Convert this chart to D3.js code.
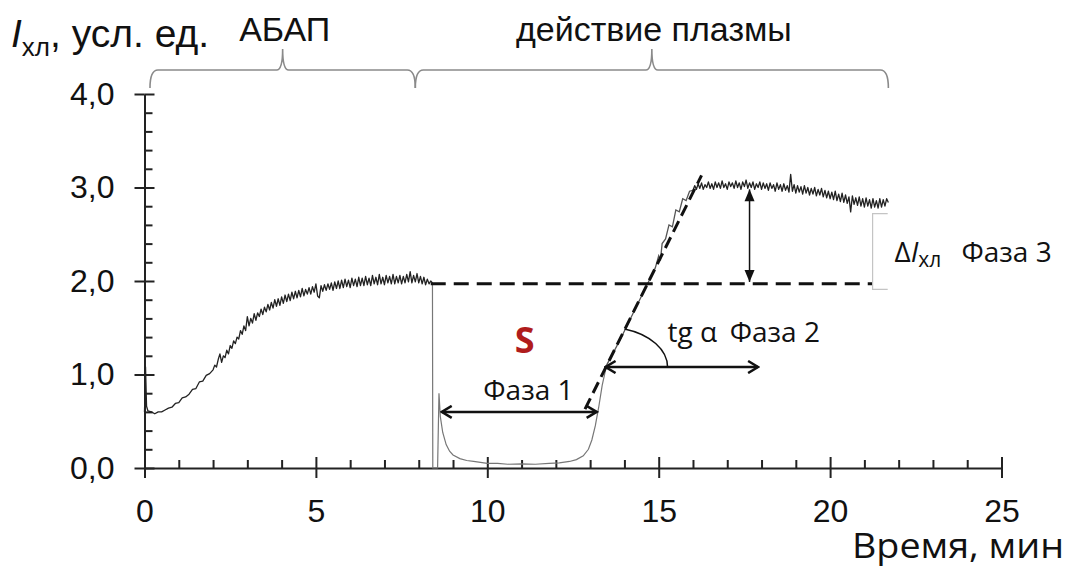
<!DOCTYPE html>
<html>
<head>
<meta charset="utf-8">
<script src="https://cdn.jsdelivr.net/npm/d3@7/dist/d3.min.js"></script>
<style>
body { margin: 0; background: #fff; }
svg { display: block; }
.tick text { font-family: "Liberation Sans", Arial, sans-serif; font-size: 32px; fill: #111; }
.tick line { stroke: #222; stroke-width: 2; }
.domain { stroke: #222; stroke-width: 2; }
.note { font-family: "Open Sans", sans-serif; font-size: 28px; fill: #111; }
.head { font-family: "Liberation Sans", Arial, sans-serif; font-size: 34px; fill: #111; }
</style>
</head>
<body>
<script>
// ---- data ----
var xTicks = [0, 5, 10, 15, 20, 25]
var xMinorTicks = [1, 2, 3, 4, 6, 7, 8, 9, 11, 12, 13, 14, 16, 17, 18, 19, 21, 22, 23, 24]
var yTicks = [0, 1, 2, 3, 4]
var yTickLabels = ["0,0", "1,0", "2,0", "3,0", "4,0"]
var yMinorTicks = [0.2, 0.4, 0.6, 0.8, 1.2, 1.4, 1.6, 1.8, 2.2, 2.4, 2.6, 2.8, 3.2, 3.4, 3.6, 3.8]

// АБАП phase: time, intensity
var abapCurve = [
	[0, 0.6], [0.03, 1.08], [0.06, 0.66], [0.1, 0.61], [0.2, 0.6],
	[0.3, 0.58], [0.4, 0.6], [0.5, 0.6], [0.6, 0.62], [0.7, 0.64], [0.8, 0.65], [0.9, 0.69],
	[1.0, 0.7], [1.1, 0.75], [1.2, 0.76], [1.3, 0.79], [1.4, 0.84], [1.5, 0.85], [1.6, 0.92],
	[1.7, 0.93], [1.8, 0.99], [1.9, 1.01],
	[2.0, 1.05], [2.05, 1.1], [2.1, 1.08], [2.15, 1.16], [2.2, 1.22], [2.25, 1.13], [2.3, 1.2],
	[2.35, 1.18], [2.4, 1.26], [2.45, 1.22], [2.5, 1.31], [2.55, 1.28], [2.6, 1.36], [2.65, 1.33],
	[2.7, 1.4], [2.75, 1.38], [2.8, 1.47], [2.85, 1.43], [2.9, 1.52], [2.95, 1.47], [3.0, 1.62],
	[3.05, 1.52], [3.1, 1.6], [3.15, 1.55], [3.2, 1.65], [3.25, 1.58], [3.3, 1.66], [3.35, 1.62],
	[3.4, 1.7], [3.45, 1.64], [3.5, 1.72], [3.55, 1.67], [3.6, 1.75], [3.65, 1.69], [3.7, 1.77],
	[3.75, 1.71], [3.8, 1.8], [3.85, 1.73], [3.9, 1.81], [3.95, 1.74], [4.0, 1.83], [4.05, 1.76],
	[4.1, 1.85], [4.15, 1.78], [4.2, 1.86], [4.25, 1.79], [4.3, 1.88], [4.35, 1.81], [4.4, 1.89],
	[4.45, 1.82], [4.5, 1.9], [4.55, 1.83], [4.6, 1.92], [4.65, 1.84], [4.7, 1.91], [4.75, 1.86],
	[4.8, 1.93], [4.85, 1.86], [4.9, 1.94], [4.95, 1.88], [5.0, 1.97], [5.05, 1.84], [5.1, 1.82],
	[5.15, 1.95], [5.2, 1.89], [5.25, 1.96], [5.3, 1.9], [5.35, 1.97], [5.4, 1.91], [5.45, 1.98],
	[5.5, 1.9], [5.55, 1.99], [5.6, 1.92], [5.65, 2.0], [5.7, 1.92], [5.75, 2.01], [5.8, 1.93],
	[5.85, 2.02], [5.9, 1.94], [5.95, 2.01], [6.0, 1.93], [6.05, 2.03], [6.1, 1.95], [6.15, 2.02],
	[6.2, 1.94], [6.25, 2.04], [6.3, 1.95], [6.35, 2.03], [6.4, 1.95], [6.45, 2.05], [6.5, 1.96],
	[6.55, 2.03], [6.6, 1.95], [6.65, 2.06], [6.7, 1.97], [6.75, 2.04], [6.8, 1.96], [6.85, 2.07],
	[6.9, 1.97], [6.95, 2.04], [7.0, 1.96], [7.05, 2.06], [7.1, 1.98], [7.15, 2.05], [7.2, 1.97],
	[7.25, 2.07], [7.3, 1.97], [7.35, 2.05], [7.4, 1.98], [7.45, 2.06], [7.5, 1.97], [7.55, 2.05],
	[7.6, 1.98], [7.65, 2.07], [7.7, 1.99], [7.75, 2.1], [7.8, 1.98], [7.85, 2.06], [7.9, 1.99],
	[7.95, 2.08], [8.0, 1.98], [8.05, 2.05], [8.1, 1.97], [8.15, 2.04], [8.2, 1.96], [8.25, 2.02],
	[8.3, 1.97], [8.35, 2.0], [8.4, 1.98]
]

// plasma added: drop, flash, lag phase
var lagCurve = [
	[8.4, 1.98], [8.41, 0.0], [8.55, 0.0], [8.59, 0.8], [8.63, 0.55], [8.7, 0.38], [8.8, 0.25],
	[8.9, 0.18], [9.0, 0.14], [9.2, 0.1], [9.4, 0.08], [9.6, 0.07], [9.8, 0.06], [10.0, 0.05],
	[10.3, 0.05], [10.6, 0.04], [11.0, 0.045], [11.4, 0.04], [11.8, 0.05], [12.1, 0.055],
	[12.4, 0.07], [12.6, 0.09], [12.8, 0.13], [12.95, 0.2], [13.05, 0.3], [13.15, 0.45],
	[13.25, 0.65], [13.35, 0.88], [13.48, 1.1]
]

// rise phase
var riseCurve = [
	[13.48, 1.1], [13.7, 1.25], [13.9, 1.39], [14.1, 1.54], [14.3, 1.69], [14.5, 1.84],
	[14.7, 1.99], [14.9, 2.14], [15.0, 2.27], [15.05, 2.22], [15.1, 2.4], [15.2, 2.45],
	[15.3, 2.6], [15.4, 2.58], [15.5, 2.76], [15.6, 2.74], [15.7, 2.88], [15.8, 2.86],
	[15.9, 2.96], [16.0, 2.97]
]

// plateau
var plateauCurve = [
	[16.0, 2.97], [16.05, 3.02], [16.1, 2.98], [16.15, 3.04], [16.2, 2.99], [16.25, 3.05],
	[16.3, 2.98], [16.35, 3.03], [16.4, 3.0], [16.45, 3.06], [16.5, 2.99], [16.55, 3.04],
	[16.6, 2.98], [16.65, 3.06], [16.7, 3.0], [16.75, 3.05], [16.8, 2.99], [16.85, 3.07],
	[16.9, 3.0], [16.95, 3.04], [17.0, 2.98], [17.05, 3.06], [17.1, 3.01], [17.15, 3.05],
	[17.2, 2.99], [17.25, 3.07], [17.3, 3.0], [17.35, 3.05], [17.4, 2.98], [17.45, 3.06],
	[17.5, 3.01], [17.55, 3.08], [17.6, 2.99], [17.65, 3.05], [17.7, 3.0], [17.75, 3.06],
	[17.8, 2.98], [17.85, 3.04], [17.9, 3.0], [17.95, 3.06], [18.0, 2.98], [18.05, 3.05],
	[18.1, 2.99], [18.15, 3.04], [18.2, 2.97], [18.25, 3.05], [18.3, 2.99], [18.35, 3.03],
	[18.4, 2.96], [18.45, 3.05], [18.5, 2.98], [18.55, 3.03], [18.6, 2.96], [18.65, 3.04],
	[18.7, 2.97], [18.75, 3.02], [18.8, 2.95], [18.85, 3.14], [18.9, 2.96], [18.95, 3.03],
	[19.0, 2.94], [19.05, 3.02], [19.1, 2.95], [19.15, 3.01], [19.2, 2.93], [19.25, 3.02],
	[19.3, 2.94], [19.35, 3.0], [19.4, 2.92], [19.45, 2.99], [19.5, 2.93], [19.55, 3.0],
	[19.6, 2.91], [19.65, 2.98], [19.7, 2.92], [19.75, 2.99], [19.8, 2.9], [19.85, 2.97],
	[19.9, 2.89], [19.95, 2.96], [20.0, 2.88], [20.05, 2.95], [20.1, 2.87], [20.15, 2.96],
	[20.2, 2.86], [20.25, 2.93], [20.3, 2.85], [20.35, 2.94], [20.4, 2.84], [20.45, 2.92],
	[20.5, 2.83], [20.55, 2.9], [20.6, 2.74], [20.65, 2.91], [20.7, 2.82], [20.75, 2.89],
	[20.8, 2.81], [20.85, 2.9], [20.9, 2.8], [20.95, 2.88], [21.0, 2.79], [21.05, 2.89],
	[21.1, 2.8], [21.15, 2.87], [21.2, 2.78], [21.25, 2.88], [21.3, 2.79], [21.35, 2.86],
	[21.4, 2.78], [21.45, 2.88], [21.5, 2.79], [21.55, 2.87], [21.6, 2.8], [21.65, 2.88],
	[21.7, 2.84]
]

// guide lines
var baseLevel = [[8.35, 1.97], [21.24, 1.97]]
var slopeLine = [[12.85, 0.63], [16.25, 3.13]]
var phase1Arrow = [[8.67, 0.6], [13.19, 0.6]]
var phase2Arrow = [[13.45, 1.08], [17.9, 1.08]]
var deltaArrow = [[17.65, 2.98], [17.65, 1.99]]
var deltaBracket = [[21.68, 2.72], [21.24, 2.72], [21.24, 1.91], [21.68, 1.91]]

// braces over time periods
var braceSpans = [[0.16, 7.9], [7.9, 21.7]]
var braceLabels = ["АБАП", "действие плазмы"]

// ---- chart ----
var width = 1070, height = 567

var svg = d3.select("body").append("svg")
	.attr("width", width)
	.attr("height", height)

var x = d3.scaleLinear().domain([0, 25]).range([144.5, 1001.5])
var y = d3.scaleLinear().domain([0, 4]).range([468, 94])

var defs = svg.append("defs")
defs.append("marker")
	.attr("id", "chev")
	.attr("viewBox", "-12 -7 14 14")
	.attr("refX", 0).attr("refY", 0)
	.attr("markerUnits", "userSpaceOnUse")
	.attr("markerWidth", 14).attr("markerHeight", 14)
	.attr("orient", "auto-start-reverse")
  .append("path")
	.attr("d", "M-10,-6 L0,0 L-10,6")
	.attr("fill", "none").attr("stroke", "#111").attr("stroke-width", 2.5)
defs.append("marker")
	.attr("id", "tri")
	.attr("viewBox", "-13 -6 14 12")
	.attr("refX", 0).attr("refY", 0)
	.attr("markerUnits", "userSpaceOnUse")
	.attr("markerWidth", 14).attr("markerHeight", 12)
	.attr("orient", "auto-start-reverse")
  .append("path")
	.attr("d", "M0,0 L-12,-5 L-12,5 Z")
	.attr("fill", "#111")

// axes (minor + major ticks crossing the axis line)
var gx = svg.append("g").attr("transform", "translate(0," + y(0) + ")")
gx.append("g").call(d3.axisTop(x).tickValues(xMinorTicks).tickSize(8).tickFormat(""))
	.select(".domain").remove()
gx.append("g").call(d3.axisTop(x).tickValues(xTicks).tickSize(11).tickFormat(""))
	.select(".domain").remove()
gx.append("g").call(d3.axisBottom(x).tickValues(xTicks).tickSize(10).tickSizeOuter(0).tickPadding(21))

var gy = svg.append("g").attr("transform", "translate(" + x(0) + ",0)")
gy.append("g").call(d3.axisRight(y).tickValues(yMinorTicks).tickSize(8).tickFormat(""))
	.select(".domain").remove()
gy.append("g").call(d3.axisRight(y).tickValues(yTicks).tickSize(10).tickFormat(""))
	.select(".domain").remove()
gy.append("g").call(d3.axisLeft(y).tickValues(yTicks).tickSize(10).tickSizeOuter(0).tickPadding(20)
	.tickFormat(function(d, i) { return yTickLabels[i] }))

// curves
var line = d3.line().x(function(d) { return x(d[0]) }).y(function(d) { return y(d[1]) })

svg.append("path").attr("d", line(lagCurve))
	.attr("fill", "none").attr("stroke", "#777").attr("stroke-width", 1.2)
svg.append("path").attr("d", line(riseCurve))
	.attr("fill", "none").attr("stroke", "#555").attr("stroke-width", 1.3)
svg.append("path").attr("d", line(abapCurve))
	.attr("fill", "none").attr("stroke", "#222").attr("stroke-width", 1.3).attr("stroke-linejoin", "round")
svg.append("path").attr("d", line(plateauCurve))
	.attr("fill", "none").attr("stroke", "#222").attr("stroke-width", 1.3).attr("stroke-linejoin", "round")

// dashed guides
svg.append("path").attr("d", line(baseLevel))
	.attr("stroke", "#111").attr("stroke-width", 3).attr("stroke-dasharray", "15,8")
svg.append("path").attr("d", line(slopeLine))
	.attr("stroke", "#111").attr("stroke-width", 3).attr("stroke-dasharray", "12,6")

// arrows
svg.append("path").attr("d", line(phase1Arrow))
	.attr("stroke", "#111").attr("stroke-width", 2.5)
	.attr("marker-start", "url(#chev)").attr("marker-end", "url(#chev)")
svg.append("path").attr("d", line(phase2Arrow))
	.attr("stroke", "#111").attr("stroke-width", 2.5)
	.attr("marker-start", "url(#chev)").attr("marker-end", "url(#chev)")
svg.append("path").attr("d", line(deltaArrow))
	.attr("stroke", "#111").attr("stroke-width", 1.5)
	.attr("marker-start", "url(#tri)").attr("marker-end", "url(#tri)")
svg.append("path").attr("d", line(deltaBracket))
	.attr("fill", "none").attr("stroke", "#c4c4c4").attr("stroke-width", 1.2)

// angle arc between slope and phase 2 arrow
var cx = x(phase2Arrow[0][0]), cy = y(phase2Arrow[0][1])
var ang = Math.atan2(y(slopeLine[0][1]) - y(slopeLine[1][1]), x(slopeLine[1][0]) - x(slopeLine[0][0]))
var rx = 62, ry = 40
var r = 1 / Math.sqrt(Math.pow(Math.cos(ang) / rx, 2) + Math.pow(Math.sin(ang) / ry, 2))
svg.append("path")
	.attr("d", "M" + (cx + r * Math.cos(ang)) + "," + (cy - r * Math.sin(ang)) +
		" A" + rx + "," + ry + " 0 0 1 " + (cx + rx) + "," + cy)
	.attr("fill", "none").attr("stroke", "#111").attr("stroke-width", 1.5)

// braces
braceSpans.forEach(function(s, i) {
	var x0 = x(s[0]), x1 = x(s[1]), m = (x0 + x1) / 2
	var top = 70, tip = 49, foot = 88
	var p = "M" + x0 + "," + foot + " Q" + x0 + "," + top + " " + (x0 + 8) + "," + top +
		" L" + (m - 6) + "," + top + " Q" + m + "," + top + " " + m + "," + tip +
		" Q" + m + "," + top + " " + (m + 6) + "," + top +
		" L" + (x1 - 8) + "," + top + " Q" + x1 + "," + top + " " + x1 + "," + foot
	svg.append("path").attr("d", p)
		.attr("fill", "none").attr("stroke", "#8a8a8a").attr("stroke-width", 1.6)
	svg.append("text").attr("class", "head")
		.attr("x", m + 2).attr("y", 41)
		.attr("text-anchor", "middle")
		.text(braceLabels[i])
})

// axis titles
var yt = svg.append("text").attr("class", "head").attr("x", 11).attr("y", 47).style("font-size", "39px")
yt.append("tspan").attr("font-style", "italic").text("I")
yt.append("tspan").attr("dy", 9).style("font-size", "26px").text("хл")
yt.append("tspan").attr("dy", -9).text(", усл. ед.")

svg.append("text").attr("class", "note")
	.attr("x", 852).attr("y", 558)
	.attr("textLength", 212).attr("lengthAdjust", "spacingAndGlyphs")
	.style("font-size", "35px")
	.text("Время, мин")

// annotations
svg.append("text")
	.attr("x", x(10.8)).attr("y", y(1.23))
	.attr("font-family", "Open Sans, sans-serif").attr("font-weight", "bold")
	.attr("font-size", 36).attr("fill", "#b01c1c")
	.text("S")
svg.append("text").attr("class", "note")
	.attr("x", x(11.2)).attr("y", y(0.73)).attr("text-anchor", "middle")
	.text("Фаза 1")
svg.append("text").attr("class", "note")
	.attr("x", x(15.26)).attr("y", y(1.35))
	.text("tg α")
svg.append("text").attr("class", "note")
	.attr("x", x(17.07)).attr("y", y(1.35))
	.text("Фаза 2")
var dl = svg.append("text").attr("class", "note")
	.attr("x", x(21.88)).attr("y", y(2.2))
dl.append("tspan").text("Δ")
dl.append("tspan").attr("font-style", "italic").text("I")
dl.append("tspan").attr("dy", 5).style("font-size", "21px").text("хл")
svg.append("text").attr("class", "note")
	.attr("x", x(23.83)).attr("y", y(2.2))
	.text("Фаза 3")
</script>
</body>
</html>
